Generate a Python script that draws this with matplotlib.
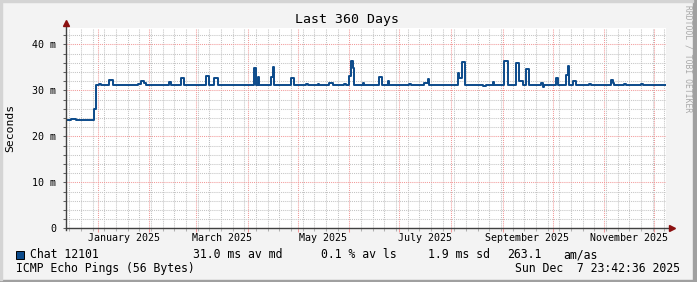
import pandas as pd
import matplotlib
matplotlib.use('Agg')
from matplotlib import pyplot as plt
import matplotlib.dates as mdates
from matplotlib.ticker import MultipleLocator
from matplotlib.patches import Rectangle

plt.rcParams['font.family'] = 'DejaVu Sans Mono'

# median ping, step changes (date, ms)
step_dates = [
    '2024-12-12 23:42', '2024-12-16', '2024-12-19', '2024-12-30', '2024-12-30 20:00',
    '2025-01-02', '2025-01-03', '2025-01-08', '2025-01-10',
    '2025-01-25', '2025-01-27', '2025-01-29', '2025-01-30',
    '2025-02-13', '2025-02-14', '2025-02-20', '2025-02-22',
    '2025-03-07', '2025-03-09', '2025-03-12', '2025-03-14',
    '2025-04-05', '2025-04-06', '2025-04-07', '2025-04-08',
    '2025-04-15', '2025-04-16', '2025-04-17', '2025-04-27', '2025-04-29',
    '2025-05-06', '2025-05-07', '2025-05-13', '2025-05-14',
    '2025-05-20', '2025-05-22', '2025-05-29', '2025-05-30',
    '2025-06-01', '2025-06-02', '2025-06-03', '2025-06-04',
    '2025-06-09', '2025-06-10', '2025-06-19', '2025-06-20 12:00',
    '2025-06-24', '2025-06-25', '2025-07-07', '2025-07-08',
    '2025-07-16', '2025-07-18', '2025-07-19',
    '2025-08-05', '2025-08-06', '2025-08-07 12:00', '2025-08-09 12:00',
    '2025-08-20', '2025-08-22', '2025-08-26', '2025-08-27',
    '2025-09-01 12:00', '2025-09-02', '2025-09-04',
    '2025-09-09', '2025-09-11', '2025-09-13', '2025-09-15', '2025-09-17',
    '2025-09-24', '2025-09-25', '2025-09-26',
    '2025-10-03', '2025-10-04', '2025-10-09', '2025-10-10', '2025-10-11',
    '2025-10-13', '2025-10-15', '2025-10-23', '2025-10-24',
    '2025-11-05', '2025-11-06', '2025-11-07', '2025-11-13', '2025-11-14',
    '2025-11-23', '2025-11-24', '2025-12-07 23:42',
]
step_values = [
    23.5, 23.7, 23.5, 25.9, 31.1,
    31.4, 31.1, 32.2, 31.1,
    31.4, 32.0, 31.5, 31.1,
    31.9, 31.1, 32.6, 31.1,
    33.1, 31.1, 32.6, 31.1,
    34.9, 31.1, 32.8, 31.1,
    32.8, 35.1, 31.1, 32.7, 31.1,
    31.4, 31.1, 31.4, 31.1,
    31.6, 31.1, 31.4, 31.1,
    33.2, 36.4, 34.8, 31.1,
    31.5, 31.1, 33.0, 31.1,
    32.1, 31.1, 31.4, 31.1,
    31.5, 32.5, 31.1,
    33.7, 32.6, 36.1, 31.1,
    30.9, 31.1, 31.9, 31.1,
    33.0, 36.4, 31.1,
    35.9, 32.0, 31.1, 34.6, 31.1,
    31.5, 30.8, 31.1,
    32.6, 31.1, 33.3, 35.3, 31.1,
    32.1, 31.1, 31.4, 31.1,
    32.3, 31.6, 31.1, 31.4, 31.1,
    31.4, 31.1, 31.1,
]

month_labels = ['January 2025', 'March 2025', 'May 2025', 'July 2025',
                'September 2025', 'November 2025']
month_label_dates = ['2025-01-16 12:00', '2025-03-16 12:00', '2025-05-16 00:00',
                     '2025-07-16 12:00', '2025-09-15 12:00', '2025-11-15 12:00']
y_ticks = [0, 10, 20, 30, 40]
y_tick_labels = ['0', '10 m', '20 m', '30 m', '40 m']

start = pd.Timestamp('2024-12-12 23:42')
end = pd.Timestamp('2025-12-07 23:42')

W, H = 697, 282
bg = '#f3f3f3'
fig = plt.figure(figsize=(W / 100, H / 100), dpi=100, facecolor=bg)

# frame
fig.patches.append(Rectangle((0, 0), 1, 2 / H, transform=fig.transFigure, color='#a0a0a0'))
fig.patches.append(Rectangle((1 - 4 / W, 0), 4 / W, 1, transform=fig.transFigure, color='#a0a0a0'))
fig.patches.append(Rectangle((0, 1 - 2 / H), 1 - 4 / W, 2 / H, transform=fig.transFigure, color='#d4d4d4'))
fig.patches.append(Rectangle((0, 2 / H), 2 / W, 1, transform=fig.transFigure, color='#d4d4d4'))

ax = fig.add_axes([66 / W, (H - 228.3) / H, 600 / W, 200 / H])
ax.set_facecolor('white')

dates = pd.to_datetime(step_dates, format='mixed')
ax.step(dates, step_values, where='post', color='#0b4a8a', lw=1.4, zorder=3)

ax.set_xlim(start, end)
ax.set_ylim(0, 43.48)

ax.xaxis.set_major_locator(mdates.MonthLocator())
ax.xaxis.set_minor_locator(mdates.WeekdayLocator(byweekday=mdates.SU))
ax.yaxis.set_major_locator(MultipleLocator(10))
ax.yaxis.set_minor_locator(MultipleLocator(2))

ax.grid(which='minor', color='#c4c4c4', lw=0.75, ls=(0, (1, 1)))
ax.grid(which='major', color='#f29a9a', lw=0.75, ls=(0, (1, 1)))
ax.set_axisbelow(True)

ax.set_xticklabels([])
ax.set_yticks(y_ticks)
ax.set_yticklabels(y_tick_labels, fontsize=7.2)
ax.tick_params(axis='x', which='major', length=3, color='#f29a9a', width=0.75)
ax.tick_params(axis='x', which='minor', length=2, color='#b0b0b0', width=0.75)
ax.tick_params(axis='y', which='both', length=2, color='#606060', width=0.75, pad=5)

for s in ax.spines.values():
    s.set_visible(False)

# axes lines with arrows
ax.plot([0, 1.007], [0, 0], transform=ax.transAxes, color='#404040', lw=1, clip_on=False, zorder=4)
ax.plot([0, 0], [-0.01, 1.02], transform=ax.transAxes, color='#404040', lw=1, clip_on=False, zorder=4)
ax.plot([1.01], [0], transform=ax.transAxes, marker='>', ms=4.5, color='#8b1010', clip_on=False, zorder=5)
ax.plot([0], [1.025], transform=ax.transAxes, marker='^', ms=4.5, color='#8b1010', clip_on=False, zorder=5)

for lab, d in zip(month_labels, month_label_dates):
    ax.text(pd.Timestamp(d), -0.05, lab, transform=ax.get_xaxis_transform(),
            ha='center', va='center', fontsize=7.2)

fig.text(347 / W, 1 - 19 / H, 'Last 360 Days', ha='center', va='center', fontsize=9.5)
fig.text(10 / W, 1 - 128 / H, 'Seconds', rotation=90, ha='center', va='center', fontsize=8.2)
fig.text(688 / W, 1 - 5 / H, 'RRDTOOL / TOBI OETIKER', rotation=270, ha='center', va='top',
         fontsize=5.8, color='#a8a8a8')

# legend
fig.patches.append(Rectangle((16 / W, 1 - 259 / H), 8 / W, 8 / H, transform=fig.transFigure,
                             facecolor='#0b4a8a', edgecolor='black', lw=0.7))
ly = 1 - 254.5 / H
fig.text(30 / W, ly, 'Chat 12101', ha='left', va='center', fontsize=8.3)
fig.text(193 / W, ly, '31.0 ms av md', ha='left', va='center', fontsize=8.3)
fig.text(321 / W, ly, '0.1 % av ls', ha='left', va='center', fontsize=8.3)
fig.text(428 / W, ly, '1.9 ms sd', ha='left', va='center', fontsize=8.3)
fig.text(507 / W, ly, '263.1', ha='left', va='center', fontsize=8.3)
fig.text(563 / W, ly, 'am/as', ha='left', va='center', fontsize=8.3)
ly2 = 1 - 268.5 / H
fig.text(16 / W, ly2, 'ICMP Echo Pings (56 Bytes)', ha='left', va='center', fontsize=8.3)
fig.text(680 / W, ly2, 'Sun Dec  7 23:42:36 2025', ha='right', va='center', fontsize=8.3)

fig.savefig('out.png', dpi=100, facecolor=bg)
